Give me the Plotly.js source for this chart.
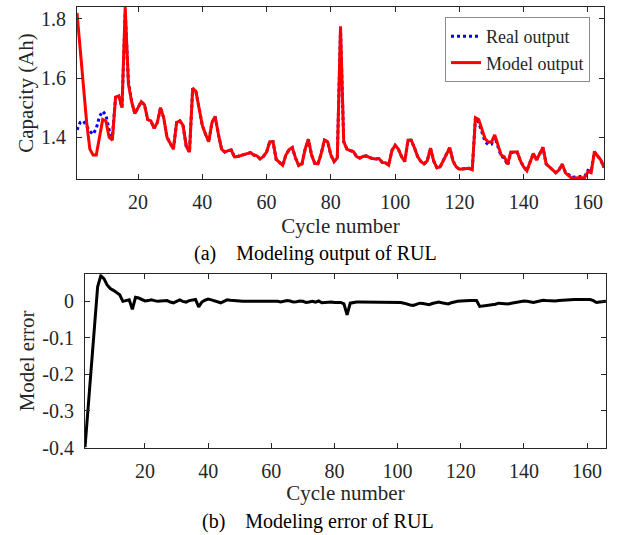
<!DOCTYPE html>
<html>
<head>
<meta charset="utf-8">
<script src="https://cdn.plot.ly/plotly-3.0.1.min.js"></script>
<style>
  html, body { margin: 0; padding: 0; background: #ffffff; }
  #chart { width: 624px; height: 535px; }
</style>
</head>
<body>
<div id="chart"></div>
<script>
// ---- Data ----
const cyclesTop = Array.from({length: 165}, (_, i) => i + 1);
const cyclesErr = Array.from({length: 166}, (_, i) => i + 1);

const realOutput = [
  1.425, 1.450, 1.455, 1.435, 1.420, 1.410, 1.430, 1.470, 1.488, 1.475,
  1.425, 1.400, 1.535, 1.540, 1.500, 1.820, 1.590, 1.520, 1.480, 1.500,
  1.520, 1.510, 1.460, 1.455, 1.430, 1.450, 1.500, 1.465, 1.400, 1.380,
  1.360, 1.450, 1.455, 1.440, 1.370, 1.350, 1.565, 1.555, 1.500, 1.440,
  1.410, 1.385, 1.450, 1.470, 1.410, 1.360, 1.350, 1.355, 1.357, 1.334,
  1.335, 1.338, 1.342, 1.346, 1.348, 1.340, 1.337, 1.327, 1.335, 1.350,
  1.385, 1.385, 1.325, 1.315, 1.305, 1.340, 1.358, 1.365, 1.330, 1.305,
  1.310, 1.360, 1.393, 1.340, 1.312, 1.310, 1.345, 1.390, 1.385, 1.340,
  1.318, 1.330, 1.765, 1.385, 1.360, 1.355, 1.352, 1.335, 1.330, 1.335,
  1.337, 1.332, 1.328, 1.327, 1.328, 1.315, 1.314, 1.306, 1.355, 1.373,
  1.360, 1.335, 1.318, 1.390, 1.390, 1.365, 1.335, 1.318, 1.310, 1.320,
  1.363, 1.320, 1.297, 1.300, 1.320, 1.345, 1.365, 1.320, 1.300, 1.292,
  1.293, 1.295, 1.295, 1.290, 1.466, 1.450, 1.420, 1.385, 1.375, 1.377,
  1.402, 1.365, 1.335, 1.330, 1.305, 1.348, 1.350, 1.350, 1.320, 1.300,
  1.287, 1.315, 1.345, 1.323, 1.345, 1.366, 1.310, 1.300, 1.293, 1.280,
  1.290, 1.309, 1.282, 1.273, 1.265, 1.266, 1.266, 1.266, 1.268, 1.288,
  1.284, 1.351, 1.335, 1.323, 1.298
];

const modelOutput = [
  1.820, 1.700, 1.580, 1.450, 1.360, 1.340, 1.340, 1.400, 1.460, 1.455,
  1.400, 1.390, 1.535, 1.540, 1.500, 1.840, 1.580, 1.520, 1.480, 1.500,
  1.520, 1.510, 1.460, 1.455, 1.430, 1.450, 1.500, 1.465, 1.400, 1.380,
  1.360, 1.450, 1.455, 1.440, 1.370, 1.350, 1.565, 1.555, 1.500, 1.440,
  1.410, 1.385, 1.450, 1.470, 1.410, 1.360, 1.350, 1.355, 1.357, 1.334,
  1.335, 1.338, 1.342, 1.346, 1.348, 1.340, 1.337, 1.327, 1.335, 1.350,
  1.385, 1.385, 1.325, 1.315, 1.305, 1.340, 1.358, 1.365, 1.330, 1.305,
  1.310, 1.360, 1.393, 1.340, 1.312, 1.310, 1.345, 1.390, 1.385, 1.340,
  1.318, 1.330, 1.775, 1.385, 1.360, 1.355, 1.352, 1.335, 1.330, 1.335,
  1.337, 1.332, 1.328, 1.327, 1.328, 1.315, 1.314, 1.306, 1.355, 1.373,
  1.360, 1.335, 1.318, 1.390, 1.390, 1.365, 1.335, 1.318, 1.310, 1.320,
  1.363, 1.320, 1.297, 1.300, 1.320, 1.345, 1.365, 1.320, 1.300, 1.292,
  1.293, 1.295, 1.295, 1.290, 1.466, 1.460, 1.430, 1.395, 1.384, 1.384,
  1.408, 1.370, 1.340, 1.334, 1.309, 1.350, 1.351, 1.350, 1.320, 1.300,
  1.287, 1.315, 1.345, 1.323, 1.345, 1.366, 1.310, 1.300, 1.293, 1.280,
  1.290, 1.309, 1.280, 1.270, 1.261, 1.262, 1.262, 1.262, 1.264, 1.284,
  1.280, 1.351, 1.335, 1.323, 1.298
];

const modelError = [
  -0.400, -0.290, -0.170, -0.050, 0.040, 0.070, 0.062, 0.045, 0.035, 0.030,
  0.024, 0.018, 0.000, 0.002, 0.004, -0.022, 0.011, 0.009, 0.006, 0.001,
  0.002, 0.004, 0.002, 0.000, 0.001, 0.001, 0.002, -0.002, -0.004, 0.000,
  0.004, 0.000, -0.002, 0.002, 0.004, 0.005, -0.015, -0.002, 0.003, 0.006,
  0.004, 0.002, -0.002, -0.004, 0.000, 0.004, 0.003, 0.002, 0.000, 0.001,
  0.000, 0.000, 0.000, 0.001, 0.000, 0.000, 0.001, 0.000, 0.000, 0.001,
  0.002, 0.000, -0.002, 0.001, 0.002, 0.001, -0.002, -0.001, 0.001, 0.000,
  -0.003, -0.002, 0.000, -0.002, 0.001, -0.004, -0.003, -0.002, -0.002, -0.003,
  -0.002, -0.003, -0.007, -0.037, -0.005, -0.003, -0.002, -0.002, -0.002, -0.002,
  -0.002, -0.002, -0.002, -0.002, -0.002, -0.002, -0.002, -0.002, -0.002, -0.002,
  -0.003, -0.005, -0.008, -0.010, -0.011, -0.008, -0.005, -0.006, -0.008, -0.009,
  -0.006, -0.003, -0.002, -0.004, -0.006, -0.007, -0.004, -0.001, 0.000, 0.001,
  0.002, 0.002, 0.002, 0.002, 0.002, -0.014, -0.013, -0.012, -0.011, -0.009,
  -0.008, -0.005, -0.006, -0.007, -0.007, -0.005, -0.003, -0.002, 0.000, 0.001,
  0.000, -0.002, -0.003, -0.001, 0.001, 0.003, 0.002, 0.001, 0.000, 0.001,
  0.002, 0.003, 0.003, 0.004, 0.004, 0.005, 0.005, 0.005, 0.005, 0.005,
  0.005, 0.002, -0.003, -0.002, 0.000, 0.000
];

const xTickVals = [20, 40, 60, 80, 100, 120, 140, 160];
const yTopTickVals = [1.4, 1.6, 1.8];
const yTopTickText = ['1.4', '1.6', '1.8'];
const yErrTickVals = [0, -0.1, -0.2, -0.3, -0.4];
const yErrTickText = ['0', '-0.1', '-0.2', '-0.3', '-0.4'];

const labels = {
  real: 'Real output',
  model: 'Model output',
  yTop: 'Capacity (Ah)',
  yErr: 'Model error',
  x: 'Cycle number',
  capA: '(a)\u00a0\u00a0\u00a0\u00a0Modeling output of RUL',
  capB: '(b)\u00a0\u00a0\u00a0\u00a0Modeling error of RUL'
};

// ---- Figure ----
const W = 624, H = 535;
const FONT = "'Liberation Serif', 'Times New Roman', serif";
const TXT = '#262626';

const traces = [
  { x: cyclesTop, y: realOutput, type: 'scatter', mode: 'lines', name: labels.real,
    xaxis: 'x', yaxis: 'y', line: { color: '#0000ff', width: 3, dash: 'dot' } },
  { x: cyclesTop, y: modelOutput, type: 'scatter', mode: 'lines', name: labels.model,
    xaxis: 'x', yaxis: 'y', line: { color: '#ff0000', width: 3 } },
  { x: cyclesErr, y: modelError, type: 'scatter', mode: 'lines', name: 'error',
    showlegend: false, xaxis: 'x2', yaxis: 'y2', line: { color: '#000000', width: 3 } }
];

function axisBase() {
  return {
    showline: true, linecolor: TXT, linewidth: 1, mirror: 'ticks',
    ticks: 'inside', ticklen: 5, tickwidth: 1, tickcolor: TXT,
    showgrid: false, zeroline: false,
    tickfont: { family: FONT, size: 20, color: TXT }
  };
}

const layout = {
  width: W, height: H,
  margin: { l: 0, r: 0, t: 0, b: 0 },
  paper_bgcolor: '#ffffff', plot_bgcolor: '#ffffff',
  showlegend: true,
  font: { family: FONT, color: TXT },
  legend: {
    x: 590 / W, y: 1 - 17 / H, xanchor: 'right', yanchor: 'top',
    bgcolor: '#ffffff', bordercolor: '#8c8c8c', borderwidth: 1,
    font: { family: FONT, size: 18, color: TXT },
    tracegroupgap: 0
  },
  xaxis: Object.assign(axisBase(), {
    domain: [77 / W, 604 / W], anchor: 'y', range: [1, 165],
    tickvals: xTickVals, ticklabelstandoff: 5,
    title: { text: labels.x, font: { family: FONT, size: 21, color: TXT }, standoff: 6 }
  }),
  yaxis: Object.assign(axisBase(), {
    domain: [1 - 179 / H, 1 - 7 / H], anchor: 'x', range: [1.259, 1.84],
    tickvals: yTopTickVals, ticktext: yTopTickText, ticklabelstandoff: 6,
    title: { text: labels.yTop, font: { family: FONT, size: 21, color: TXT }, standoff: 1 }
  }),
  xaxis2: Object.assign(axisBase(), {
    domain: [85 / W, 606 / W], anchor: 'y2', range: [1, 166],
    tickvals: xTickVals, ticklabelstandoff: 5,
    title: { text: labels.x, font: { family: FONT, size: 21, color: TXT }, standoff: 4 }
  }),
  yaxis2: Object.assign(axisBase(), {
    domain: [1 - 447.5 / H, 1 - 274.3 / H], anchor: 'x2', range: [-0.4, 0.074],
    tickvals: yErrTickVals, ticktext: yErrTickText, ticklabelstandoff: 6,
    title: { text: labels.yErr, font: { family: FONT, size: 21, color: TXT }, standoff: 1 }
  }),
  annotations: [
    { text: labels.capA, xref: 'paper', yref: 'paper', x: 315 / W, y: 1 - 254 / H,
      xanchor: 'center', yanchor: 'middle', showarrow: false,
      font: { family: FONT, size: 20, color: '#000000' } },
    { text: labels.capB, xref: 'paper', yref: 'paper', x: 318 / W, y: 1 - 521 / H,
      xanchor: 'center', yanchor: 'middle', showarrow: false,
      font: { family: FONT, size: 20, color: '#000000' } }
  ]
};

Plotly.newPlot('chart', traces, layout, { displayModeBar: false, staticPlot: true });
</script>
</body>
</html>
